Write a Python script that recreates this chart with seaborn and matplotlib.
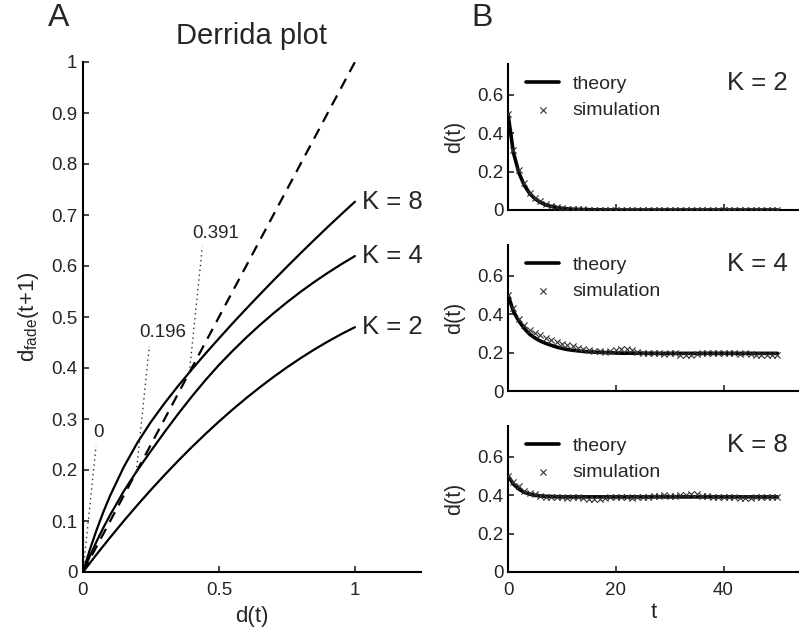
import matplotlib
matplotlib.use("Agg")
import matplotlib.pyplot as plt
import numpy as np
import pandas as pd
import seaborn as sns

# ---------------- data ----------------
d_grid = [0.0, 0.025, 0.05, 0.075, 0.10, 0.15, 0.20, 0.25, 0.30, 0.35, 0.40, 0.45, 0.50,
          0.55, 0.60, 0.65, 0.70, 0.75, 0.80, 0.85, 0.90, 0.95, 1.00]
derrida_K2 = [0, 0.0173, 0.0345, 0.0512, 0.0678, 0.1001, 0.1312, 0.1613, 0.1902, 0.2181, 0.2448, 0.2705, 0.295,
              0.3185, 0.3408, 0.3621, 0.3822, 0.4013, 0.4192, 0.4361, 0.4518, 0.4665, 0.48]
derrida_K4 = [0, 0.031, 0.06, 0.087, 0.112, 0.1585, 0.1995, 0.2375, 0.2745, 0.31, 0.344, 0.376, 0.406,
              0.4335, 0.4595, 0.484, 0.507, 0.5288, 0.5493, 0.5685, 0.5865, 0.6035, 0.6195]
derrida_K8 = [0, 0.0435, 0.0825, 0.118, 0.15, 0.206, 0.2535, 0.2945, 0.331, 0.365, 0.397, 0.428, 0.458,
              0.4875, 0.516, 0.544, 0.5715, 0.5985, 0.625, 0.651, 0.6765, 0.7015, 0.726]
k_labels = ["K = 2", "K = 4", "K = 8"]
fixed_points = [0.0, 0.196, 0.391]
fixed_labels = ["0", "0.196", "0.391"]
identity_x = [0.0, 1.0]
identity_y = [0.0, 1.0]

t_steps = np.arange(51)
theory_K2 = [0.5, 0.30, 0.195, 0.13, 0.087, 0.059, 0.040, 0.027, 0.019, 0.013,
             0.009, 0.006, 0.004, 0.003, 0.002, 0.0015, 0.001, 0.001, 0.0005, 0.0005,
             0, 0, 0, 0, 0, 0, 0, 0, 0, 0,
             0, 0, 0, 0, 0, 0, 0, 0, 0, 0,
             0, 0, 0, 0, 0, 0, 0, 0, 0, 0, 0]
sim_K2 = [0.5, 0.31, 0.21, 0.14, 0.09, 0.062, 0.045, 0.03, 0.02, 0.015,
          0.01, 0.007, 0.005, 0.004, 0.003, 0.002, 0.002, 0.001, 0.001, 0.001,
          0, 0, 0, 0, 0, 0, 0, 0, 0, 0,
          0, 0, 0, 0, 0, 0, 0, 0, 0, 0,
          0, 0, 0, 0, 0, 0, 0, 0, 0, 0, 0]
theory_K4 = [0.50, 0.415, 0.365, 0.326, 0.296, 0.276, 0.260, 0.248, 0.238, 0.229,
             0.222, 0.216, 0.212, 0.209, 0.206, 0.204, 0.202, 0.201, 0.200, 0.199,
             0.198, 0.197, 0.197, 0.197, 0.197, 0.197, 0.196, 0.196, 0.196, 0.196,
             0.196, 0.196, 0.196, 0.196, 0.196, 0.196, 0.196, 0.196, 0.196, 0.196,
             0.196, 0.196, 0.196, 0.196, 0.196, 0.196, 0.196, 0.196, 0.196, 0.196, 0.196]
sim_K4 = [0.50, 0.43, 0.375, 0.345, 0.32, 0.30, 0.29, 0.275, 0.265, 0.255,
          0.245, 0.24, 0.235, 0.225, 0.22, 0.215, 0.21, 0.21, 0.205, 0.21,
          0.215, 0.22, 0.218, 0.212, 0.205, 0.2, 0.198, 0.2, 0.196, 0.195,
          0.2, 0.196, 0.19, 0.187, 0.188, 0.192, 0.196, 0.2, 0.198, 0.196,
          0.2, 0.2, 0.197, 0.195, 0.198, 0.193, 0.188, 0.186, 0.188, 0.19, 0.19]
theory_K8 = [0.5, 0.458, 0.432, 0.415, 0.405, 0.399, 0.396, 0.394, 0.393, 0.392,
             0.391, 0.391, 0.391, 0.391, 0.391, 0.391, 0.391, 0.391, 0.391, 0.391,
             0.391, 0.391, 0.391, 0.391, 0.391, 0.391, 0.391, 0.391, 0.391, 0.391,
             0.391, 0.391, 0.391, 0.391, 0.391, 0.391, 0.391, 0.391, 0.391, 0.391,
             0.391, 0.391, 0.391, 0.391, 0.391, 0.391, 0.391, 0.391, 0.391, 0.391, 0.391]
sim_K8 = [0.5, 0.47, 0.45, 0.42, 0.41, 0.405, 0.398, 0.393, 0.39, 0.388,
          0.39, 0.387, 0.39, 0.388, 0.385, 0.382, 0.38, 0.381, 0.384, 0.388,
          0.392, 0.39, 0.388, 0.386, 0.388, 0.39, 0.392, 0.395, 0.398, 0.402,
          0.398, 0.396, 0.4, 0.403, 0.406, 0.404, 0.398, 0.394, 0.39, 0.388,
          0.39, 0.392, 0.389, 0.386, 0.384, 0.385, 0.388, 0.39, 0.392, 0.39, 0.39]

# ---------------- style ----------------
sns.set_theme(style="ticks")
plt.rcParams["font.family"] = ["Liberation Sans", "DejaVu Sans"]
plt.rcParams["mathtext.default"] = "regular"
plt.rcParams["xtick.direction"] = "in"
plt.rcParams["ytick.direction"] = "in"
plt.rcParams["axes.linewidth"] = 1.5
plt.rcParams["axes.edgecolor"] = "black"

W, H = 799, 631
fig = plt.figure(figsize=(W / 100, H / 100), dpi=100)

def px_axes(left, top, right, bottom):
    return fig.add_axes([left / W, 1 - bottom / H, (right - left) / W, (bottom - top) / H])

TICK_FS = 13.5

# ---------------- panel A ----------------
axA = px_axes(83, 62, 421, 572)
n = len(d_grid)
dfA = pd.DataFrame({"d": d_grid * 3,
                    "v": derrida_K2 + derrida_K4 + derrida_K8,
                    "K": [k_labels[0]] * n + [k_labels[1]] * n + [k_labels[2]] * n})
sns.lineplot(data=dfA, x="d", y="v", units="K", estimator=None, color="black",
             linewidth=1.6, ax=axA, legend=False)
sns.lineplot(x=identity_x, y=identity_y, color="black", linewidth=1.6, ax=axA,
             legend=False, linestyle=(0, (5, 3.5)))
for fp, lab in zip(fixed_points, fixed_labels):
    top_x, top_y = fp + 0.048, fp + 0.247
    axA.plot([fp, top_x], [fp, top_y], color="0.2", linestyle=(0, (1, 2.5)), linewidth=1.0)
    lx = top_x + (0.01 if lab == "0" else 0.048)
    axA.text(lx, top_y + 0.026, lab, ha="center", va="center", fontsize=TICK_FS)
for vals, lab in zip([derrida_K2, derrida_K4, derrida_K8], k_labels):
    axA.text(1.025, vals[-1], lab, ha="left", va="center", fontsize=18.5)

axA.set_xlim(0, 1.243)
axA.set_ylim(0, 1)
axA.set_xticks([0, 0.5, 1])
axA.set_xticklabels(["0", "0.5", "1"])
axA.set_yticks([0, 0.1, 0.2, 0.3, 0.4, 0.5, 0.6, 0.7, 0.8, 0.9, 1.0])
axA.set_yticklabels(["0", "0.1", "0.2", "0.3", "0.4", "0.5", "0.6", "0.7", "0.8", "0.9", "1"])
axA.tick_params(axis="x", length=4, width=1.2, pad=7, labelsize=TICK_FS)
axA.tick_params(axis="y", length=4, width=1.2, pad=4, labelsize=TICK_FS)
axA.set_xlabel("d(t)", fontsize=16, labelpad=5)
axA.set_ylabel(r"d$_{\mathregular{fade}}$(t+1)", fontsize=16, labelpad=7)
axA.set_title("Derrida plot", fontsize=21, pad=13)
sns.despine(ax=axA)

# ---------------- panel B ----------------
tops = [64, 245, 426]
theories = [theory_K2, theory_K4, theory_K8]
sims = [sim_K2, sim_K4, sim_K8]
for i, (top, th, sm, lab) in enumerate(zip(tops, theories, sims, k_labels)):
    ax = px_axes(508, top, 799, top + 146)
    sns.lineplot(x=t_steps, y=th, color="black", linewidth=2.6, ax=ax,
                 label="theory", legend=False)
    sns.scatterplot(x=t_steps, y=sm, marker="x", color="0.2", s=20, linewidth=0.8,
                    ax=ax, label="simulation", legend=False, zorder=3)
    ax.set_xlim(0, 54)
    ax.set_ylim(0, 0.76)
    ax.set_yticks([0, 0.2, 0.4, 0.6])
    ax.set_yticklabels(["0", "0.2", "0.4", "0.6"])
    ax.set_xticks([0, 20, 40])
    if i == 2:
        ax.set_xticklabels(["0", "20", "40"])
        ax.set_xlabel("t", fontsize=16, labelpad=2)
    else:
        ax.set_xticklabels([])
        ax.set_xlabel("")
    ax.tick_params(axis="x", length=4, width=1.2, pad=7, labelsize=TICK_FS)
    ax.tick_params(axis="y", length=4, width=1.2, pad=3, labelsize=TICK_FS)
    ax.set_ylabel("d(t)", fontsize=15.5, labelpad=9)
    ax.text(0.96, 0.87, lab, transform=ax.transAxes, ha="right", va="center", fontsize=18.5)
    ax.legend(loc="upper left", bbox_to_anchor=(0.062, 0.92), frameon=False,
              fontsize=14, handlelength=1.7, handletextpad=0.7, labelspacing=0.4,
              borderpad=0, borderaxespad=0)
    sns.despine(ax=ax)

fig.text(59 / W, 1 - 18 / H, "A", ha="center", va="center", fontsize=23)
fig.text(482 / W, 1 - 18 / H, "B", ha="center", va="center", fontsize=23)

fig.savefig("out.png", dpi=100)
